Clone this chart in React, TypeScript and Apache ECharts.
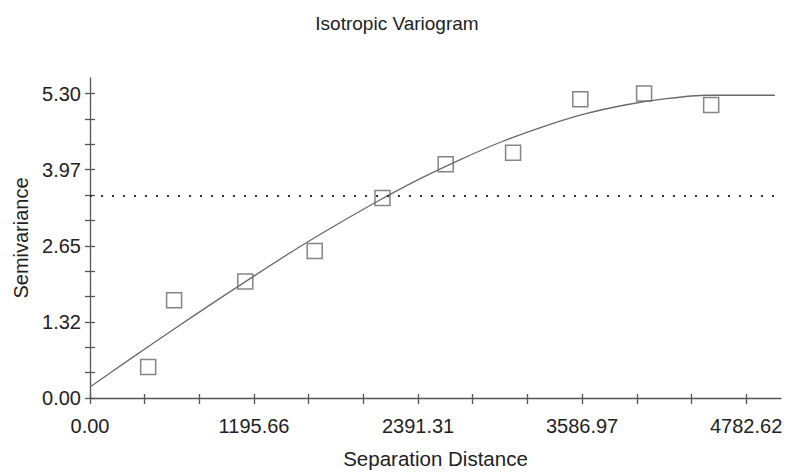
import React, { useEffect, useRef } from "react";
import * as echarts from "echarts";

const titleText = "Isotropic Variogram";
const xName = "Separation Distance";
const yName = "Semivariance";

// tick labels
const xTickLabels = ["0.00", "1195.66", "2391.31", "3586.97", "4782.62"];
const yTickLabels = ["0.00", "1.32", "2.65", "3.97", "5.30"];
const xLabelMax = 4782.62;
const yLabelMax = 5.3;
const xAxisMax = 5037;
const yAxisMax = 5.57;

// experimental variogram points
const lagDistance = [424, 613, 1132, 1638, 2132, 2593, 3084, 3574, 4039, 4528];
const semivariance = [0.54, 1.7, 2.03, 2.56, 3.48, 4.07, 4.27, 5.2, 5.3, 5.1];

// fitted model curve
const modelDistance = [0, 300, 600, 900, 1200, 1500, 1800, 2100, 2400, 2700, 3000, 3300, 3600, 3900, 4200, 4500, 4600, 4993];
const modelValue = [0.19, 0.69, 1.18, 1.66, 2.13, 2.59, 3.02, 3.43, 3.81, 4.15, 4.46, 4.72, 4.94, 5.1, 5.21, 5.27, 5.27, 5.27];

// sample variance (dotted line)
const sampleVariance = 3.52;

const axisColor = "#555";
const textColor = "#222";
const font = "'Liberation Sans', Arial, sans-serif";

export default function App() {
  const ref = useRef<HTMLDivElement>(null);

  useEffect(() => {
    if (!ref.current) return;
    const chart = echarts.init(ref.current, null, { renderer: "svg" });

    const xMajor = xTickLabels.map((_, i) => (xLabelMax * i) / (xTickLabels.length - 1));
    const yMajor = yTickLabels.map((_, i) => (yLabelMax * i) / (yTickLabels.length - 1));
    const xTicks: number[] = [];
    const yTicks: number[] = [];
    for (let i = 0; i <= 12; i++) {
      xTicks.push((xLabelMax * i) / 12);
      yTicks.push((yLabelMax * i) / 12);
    }
    const nearest = (arr: number[], v: number) => {
      let best = 0;
      arr.forEach((a, i) => {
        if (Math.abs(a - v) < Math.abs(arr[best] - v)) best = i;
      });
      return best;
    };

    const baseX = {
      type: "value",
      min: 0,
      max: xAxisMax,
      position: "bottom",
      splitLine: { show: false },
    };
    const baseY = {
      type: "value",
      min: 0,
      max: yAxisMax,
      position: "left",
      splitLine: { show: false },
    };

    chart.setOption({
      animation: false,
      backgroundColor: "#fff",
      title: {
        text: titleText,
        left: 392,
        textAlign: "center",
        top: 9,
        textStyle: { fontFamily: font, fontSize: 19, fontWeight: "normal", color: textColor },
      },
      grid: { left: 90, right: 5, top: 78, bottom: 70, containLabel: false },
      xAxis: [
        {
          ...baseX,
          name: xName,
          nameLocation: "middle",
          nameGap: 50,
          nameTextStyle: { fontFamily: font, fontSize: 20.5, color: textColor },
          axisLine: { show: true, onZero: false, lineStyle: { color: axisColor, width: 1.3 } },
          axisTick: { show: true, inside: false, length: 6, customValues: xTicks, lineStyle: { color: axisColor, width: 1.3 } },
          axisLabel: {
            show: true,
            customValues: xMajor,
            margin: 18,
            fontFamily: font,
            fontSize: 20,
            color: textColor,
            formatter: (v: number) => xTickLabels[nearest(xMajor, v)],
          },
        },
        {
          ...baseX,
          axisLine: { show: false, onZero: false },
          axisTick: { show: true, inside: true, length: 4, customValues: xTicks, lineStyle: { color: axisColor, width: 1.3 } },
          axisLabel: { show: false },
        },
      ],
      yAxis: [
        {
          ...baseY,
          name: yName,
          nameLocation: "middle",
          nameGap: 58,
          nameTextStyle: { fontFamily: font, fontSize: 20, color: textColor },
          axisLine: { show: true, onZero: false, lineStyle: { color: axisColor, width: 1.3 } },
          axisTick: { show: true, inside: false, length: 5, customValues: yTicks, lineStyle: { color: axisColor, width: 1.3 } },
          axisLabel: {
            show: true,
            customValues: yMajor,
            margin: 9,
            fontFamily: font,
            fontSize: 20,
            color: textColor,
            formatter: (v: number) => yTickLabels[nearest(yMajor, v)],
          },
        },
        {
          ...baseY,
          axisLine: { show: false, onZero: false },
          axisTick: { show: true, inside: true, length: 5, customValues: yTicks, lineStyle: { color: axisColor, width: 1.3 } },
          axisLabel: { show: false },
        },
      ],
      series: [
        {
          type: "line",
          xAxisIndex: 0,
          yAxisIndex: 0,
          data: modelDistance.map((d, i) => [d, modelValue[i]]),
          showSymbol: false,
          smooth: 0.2,
          lineStyle: { color: "#6a6a6a", width: 1.3 },
          markLine: {
            silent: true,
            symbol: "none",
            label: { show: false },
            lineStyle: { type: [2, 9], color: "#333", width: 2 },
            data: [{ yAxis: sampleVariance }],
          },
        },
        {
          type: "scatter",
          xAxisIndex: 0,
          yAxisIndex: 0,
          data: lagDistance.map((d, i) => [d, semivariance[i]]),
          symbol: "rect",
          symbolSize: 15,
          itemStyle: { color: "rgba(0,0,0,0)", borderColor: "#666", borderWidth: 1.5 },
        },
      ],
    });

    return () => chart.dispose();
  }, []);

  return (
    <div
      ref={ref}
      style={{ position: "fixed", left: 0, top: 0, width: 786, height: 474, background: "#fff" }}
    />
  );
}
